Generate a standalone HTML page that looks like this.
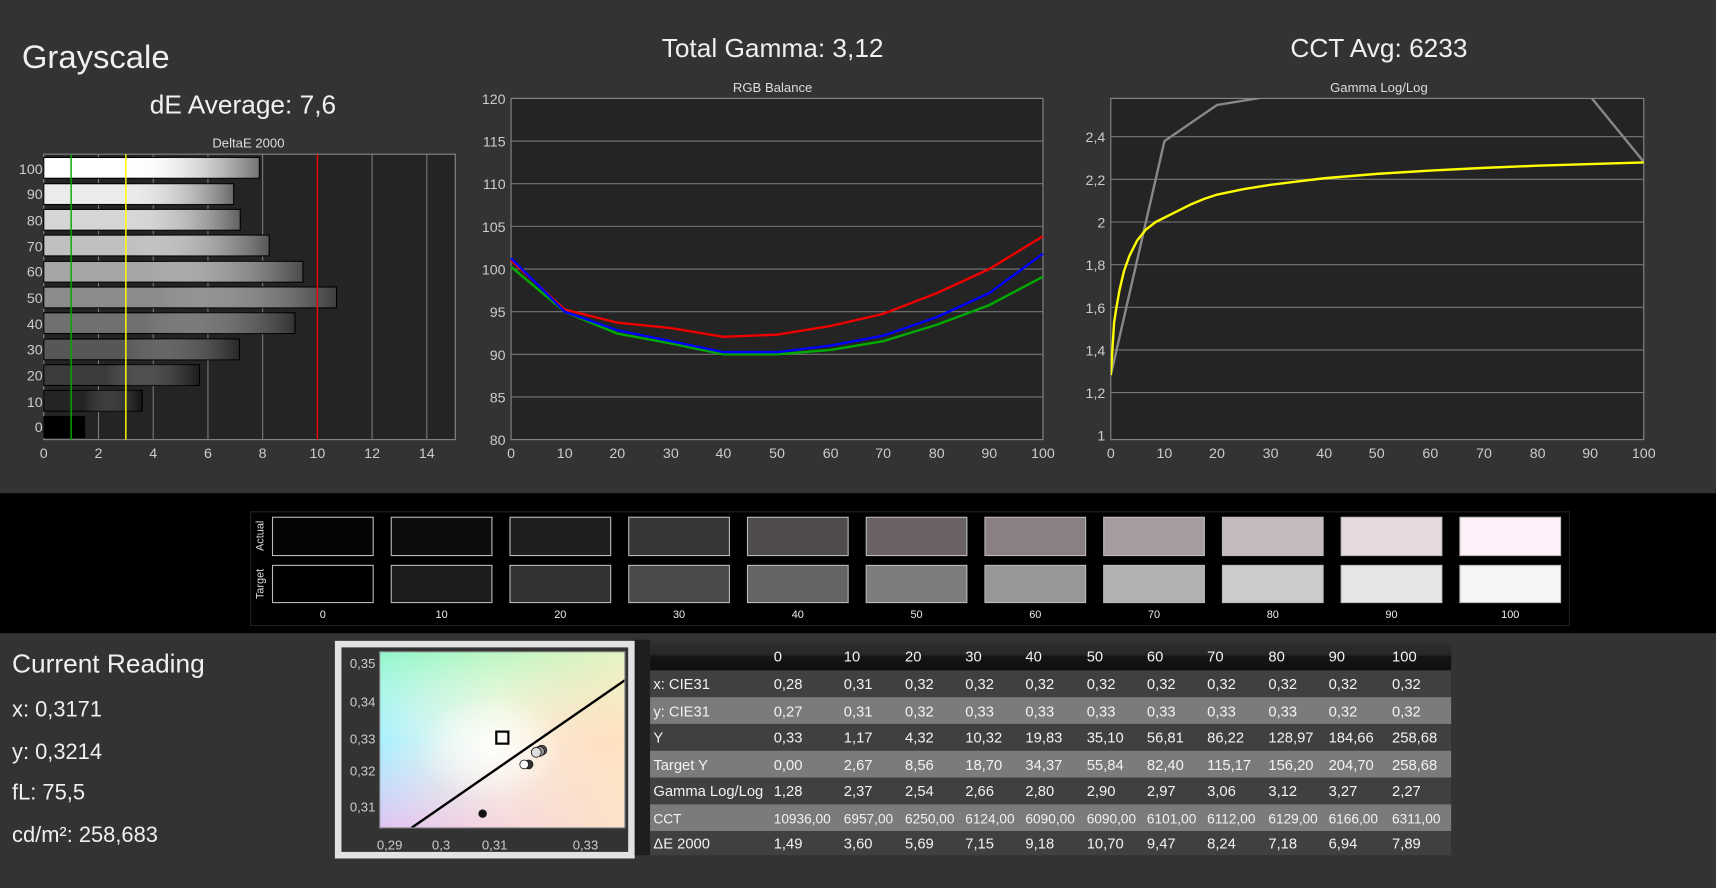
<!DOCTYPE html>
<html><head><meta charset="utf-8"><style>
html,body{margin:0;padding:0;background:#333;overflow:hidden}
svg{display:block}
text{font-family:"Liberation Sans",sans-serif}
</style></head><body>
<svg width="1716" height="888" viewBox="0 0 1568 812" preserveAspectRatio="none" xmlns="http://www.w3.org/2000/svg">
<defs>
<linearGradient id="bar" x1="0" x2="1" y1="0" y2="0">
<stop offset="0" stop-color="#fff" stop-opacity="0"/><stop offset="0.4" stop-color="#fff" stop-opacity="0"/><stop offset="1" stop-color="#000" stop-opacity="0.55"/>
</linearGradient>
<linearGradient id="hdr" x1="0" x2="0" y1="0" y2="1"><stop offset="0" stop-color="#303030"/><stop offset="0.45" stop-color="#262626"/><stop offset="0.5" stop-color="#161616"/><stop offset="1" stop-color="#0e0e0e"/></linearGradient>
<linearGradient id="cieH" x1="0" x2="1" y1="0" y2="0"><stop offset="0" stop-color="#a8f0ff"/><stop offset="0.5" stop-color="#f6f8ff"/><stop offset="1" stop-color="#ffa8c4"/></linearGradient>
<linearGradient id="cieTop" x1="0" x2="0" y1="0" y2="1"><stop offset="0" stop-color="#90f7c8" stop-opacity="0.95"/><stop offset="0.5" stop-color="#d0ffe8" stop-opacity="0"/></linearGradient>
<linearGradient id="cieTopR" x1="0" x2="1" y1="0" y2="0"><stop offset="0" stop-color="#fff6b0" stop-opacity="0"/><stop offset="1" stop-color="#fff4c0" stop-opacity="0.95"/></linearGradient>
<linearGradient id="cieBot" x1="0" x2="0" y1="0" y2="1"><stop offset="0.5" stop-color="#e8c8ff" stop-opacity="0"/><stop offset="1" stop-color="#f0b8f0" stop-opacity="0.8"/></linearGradient>
<radialGradient id="cieW" cx="0.45" cy="0.55" r="0.3"><stop offset="0" stop-color="#fff" stop-opacity="0.85"/><stop offset="1" stop-color="#fff" stop-opacity="0"/></radialGradient>
<clipPath id="cieClip"><rect x="347" y="596" width="224" height="161"/></clipPath>
<clipPath id="gClip"><rect x="1015" y="90" width="487" height="312"/></clipPath>
</defs>
<rect width="1568" height="812" fill="#333"/>
<text x="20" y="62" font-size="30" fill="#f0f0f0">Grayscale</text>
<text x="222" y="104" font-size="24" fill="#f0f0f0" text-anchor="middle">dE Average: 7,6</text>
<text x="706" y="52" font-size="24" fill="#f0f0f0" text-anchor="middle">Total Gamma: 3,12</text>
<text x="1260" y="52" font-size="24" fill="#f0f0f0" text-anchor="middle">CCT Avg: 6233</text>
<text x="227" y="135" font-size="12" fill="#ddd" text-anchor="middle">DeltaE 2000</text>
<text x="706" y="84" font-size="12" fill="#ddd" text-anchor="middle">RGB Balance</text>
<text x="1260" y="84" font-size="12" fill="#ddd" text-anchor="middle">Gamma Log/Log</text>

<rect x="40" y="141" width="376" height="261" fill="#242424" stroke="#888" stroke-width="1"/>
<g stroke="#7a7a7a" stroke-width="1">
<line x1="90" y1="141" x2="90" y2="402"/><line x1="140" y1="141" x2="140" y2="402"/><line x1="190" y1="141" x2="190" y2="402"/><line x1="240" y1="141" x2="240" y2="402"/><line x1="340" y1="141" x2="340" y2="402"/><line x1="390" y1="141" x2="390" y2="402"/>
</g>
<g font-size="13" fill="#ccc" text-anchor="middle">
<text x="40" y="419">0</text><text x="90" y="419">2</text><text x="140" y="419">4</text><text x="190" y="419">6</text><text x="240" y="419">8</text><text x="290" y="419">10</text><text x="340" y="419">12</text><text x="390" y="419">14</text>
</g>
<g stroke="#000" stroke-width="1">
<rect x="40" y="144" width="197" height="19" fill="#fff"/>
<rect x="40" y="168" width="173.5" height="19" fill="#ebebeb"/>
<rect x="40" y="191.5" width="179.5" height="19" fill="#d6d6d6"/>
<rect x="40" y="215" width="206" height="19" fill="#c0c0c0"/>
<rect x="40" y="239" width="236.8" height="19" fill="#a6a6a6"/>
<rect x="40" y="262.5" width="267.5" height="19" fill="#8c8c8c"/>
<rect x="40" y="286" width="229.5" height="19" fill="#707070"/>
<rect x="40" y="310" width="178.8" height="19" fill="#575757"/>
<rect x="40" y="333.5" width="142.3" height="19" fill="#3c3c3c"/>
<rect x="40" y="357" width="90" height="19" fill="#242424"/>
<rect x="40" y="381" width="37.3" height="19" fill="#000"/>
</g>
<g fill="url(#bar)">
<rect x="40" y="144" width="197" height="19"/><rect x="40" y="168" width="173.5" height="19"/><rect x="40" y="191.5" width="179.5" height="19"/><rect x="40" y="215" width="206" height="19"/><rect x="40" y="239" width="236.8" height="19"/><rect x="40" y="262.5" width="267.5" height="19"/><rect x="40" y="286" width="229.5" height="19"/><rect x="40" y="310" width="178.8" height="19"/><rect x="40" y="333.5" width="142.3" height="19"/><rect x="40" y="357" width="90" height="19"/>
</g>
<line x1="65" y1="141" x2="65" y2="402" stroke="#0a0" stroke-width="1.3"/>
<line x1="115" y1="141" x2="115" y2="402" stroke="#ff0" stroke-width="1.3"/>
<line x1="290" y1="141" x2="290" y2="402" stroke="#e00" stroke-width="1.3"/>
<g font-size="13" fill="#ccc" text-anchor="end">
<text x="39" y="159">100</text><text x="39" y="182">90</text><text x="39" y="206">80</text><text x="39" y="230">70</text><text x="39" y="253">60</text><text x="39" y="277">50</text><text x="39" y="301">40</text><text x="39" y="324">30</text><text x="39" y="348">20</text><text x="39" y="372">10</text><text x="39" y="395">0</text>
</g>

<rect x="467" y="90" width="486" height="312" fill="#242424" stroke="#888"/>
<g stroke="#777">
<line x1="467" y1="129" x2="953" y2="129"/><line x1="467" y1="168" x2="953" y2="168"/><line x1="467" y1="207" x2="953" y2="207"/><line x1="467" y1="246" x2="953" y2="246"/><line x1="467" y1="285" x2="953" y2="285"/><line x1="467" y1="324" x2="953" y2="324"/><line x1="467" y1="363" x2="953" y2="363"/>
</g>
<g font-size="13" fill="#ccc" text-anchor="end">
<text x="462" y="95">120</text><text x="462" y="134">115</text><text x="462" y="173">110</text><text x="462" y="212">105</text><text x="462" y="251">100</text><text x="462" y="290">95</text><text x="462" y="329">90</text><text x="462" y="368">85</text><text x="462" y="407">80</text>
</g>
<g font-size="13" fill="#ccc" text-anchor="middle">
<text x="467" y="419">0</text><text x="516" y="419">10</text><text x="564" y="419">20</text><text x="613" y="419">30</text><text x="661" y="419">40</text><text x="710" y="419">50</text><text x="759" y="419">60</text><text x="807" y="419">70</text><text x="856" y="419">80</text><text x="904" y="419">90</text><text x="953" y="419">100</text>
</g>
<g fill="none" stroke-width="2.2">
<polyline stroke="#0a0" points="467,244 516,285 564,305 613,314 661,324 710,324 759,320 807,312 856,297 904,279 953,253"/>
<polyline stroke="#e00" points="467,238 516,283 564,295 613,300 661,308 710,306 759,298 807,287 856,268 904,246 953,216"/>
<polyline stroke="#00f" points="467,236 516,285 564,302 613,312 661,322 710,322 759,316 807,307 856,290 904,268 953,232"/>
</g>

<rect x="1015" y="90" width="487" height="312" fill="#242424" stroke="#888"/>
<g stroke="#777">
<line x1="1015" y1="125" x2="1502" y2="125"/><line x1="1015" y1="164" x2="1502" y2="164"/><line x1="1015" y1="203" x2="1502" y2="203"/><line x1="1015" y1="242" x2="1502" y2="242"/><line x1="1015" y1="281" x2="1502" y2="281"/><line x1="1015" y1="320" x2="1502" y2="320"/><line x1="1015" y1="359" x2="1502" y2="359"/>
</g>
<g font-size="13" fill="#ccc" text-anchor="end">
<text x="1010" y="130">2,4</text><text x="1010" y="169">2,2</text><text x="1010" y="208">2</text><text x="1010" y="247">1,8</text><text x="1010" y="286">1,6</text><text x="1010" y="325">1,4</text><text x="1010" y="364">1,2</text><text x="1010" y="403">1</text>
</g>
<g font-size="13" fill="#ccc" text-anchor="middle">
<text x="1015" y="419">0</text><text x="1064" y="419">10</text><text x="1112" y="419">20</text><text x="1161" y="419">30</text><text x="1210" y="419">40</text><text x="1258" y="419">50</text><text x="1307" y="419">60</text><text x="1356" y="419">70</text><text x="1405" y="419">80</text><text x="1453" y="419">90</text><text x="1502" y="419">100</text>
</g>
<g clip-path="url(#gClip)" fill="none" stroke-width="2.2">
<polyline stroke="#888" points="1015,343 1064,129 1112,96 1161,88 1453,88 1502,148"/>
<polyline stroke="#ff0" points="1015,343 1018,295 1020,282 1023,265 1027,248 1032,234 1039,220 1047,210 1056,203 1064,199 1076,193 1088,187 1100,182 1112,178 1136,173 1161,169 1185,166 1210,163 1258,159 1307,156 1356,153.5 1405,151.5 1453,150 1502,148.5"/>
</g>

<rect x="0" y="451" width="1568" height="128" fill="#000"/>
<rect x="229" y="468" width="1205" height="104" fill="#000" stroke="#222"/>
<text transform="translate(241,490) rotate(-90)" font-size="10" fill="#ddd" text-anchor="middle">Actual</text>
<text transform="translate(241,534) rotate(-90)" font-size="10" fill="#ddd" text-anchor="middle">Target</text>
<g stroke="#bbb" stroke-width="1">
<rect x="249" y="473" width="92" height="35" fill="#050508"/><rect x="357.5" y="473" width="92" height="35" fill="#0d0d10"/><rect x="466" y="473" width="92" height="35" fill="#201e20"/><rect x="574.5" y="473" width="92" height="35" fill="#383537"/><rect x="683" y="473" width="92" height="35" fill="#504b4d"/><rect x="791.5" y="473" width="92" height="35" fill="#6a6264"/><rect x="900" y="473" width="92" height="35" fill="#8a8082"/><rect x="1008.5" y="473" width="92" height="35" fill="#a69c9e"/><rect x="1117" y="473" width="92" height="35" fill="#c5babd"/><rect x="1225.5" y="473" width="92" height="35" fill="#e6dade"/><rect x="1334" y="473" width="92" height="35" fill="#fff0fa"/>
<rect x="249" y="517" width="92" height="34" fill="#000"/><rect x="357.5" y="517" width="92" height="34" fill="#1c1c1c"/><rect x="466" y="517" width="92" height="34" fill="#333"/><rect x="574.5" y="517" width="92" height="34" fill="#4a4a4a"/><rect x="683" y="517" width="92" height="34" fill="#646464"/><rect x="791.5" y="517" width="92" height="34" fill="#7d7d7d"/><rect x="900" y="517" width="92" height="34" fill="#979797"/><rect x="1008.5" y="517" width="92" height="34" fill="#b1b1b1"/><rect x="1117" y="517" width="92" height="34" fill="#cbcbcb"/><rect x="1225.5" y="517" width="92" height="34" fill="#e5e5e5"/><rect x="1334" y="517" width="92" height="34" fill="#f5f5f5"/>
</g>
<g font-size="10" fill="#eee" text-anchor="middle">
<text x="295" y="565">0</text><text x="403.5" y="565">10</text><text x="512" y="565">20</text><text x="620.5" y="565">30</text><text x="729" y="565">40</text><text x="837.5" y="565">50</text><text x="946" y="565">60</text><text x="1054.5" y="565">70</text><text x="1163" y="565">80</text><text x="1271.5" y="565">90</text><text x="1380" y="565">100</text>
</g>

<g fill="#f0f0f0">
<text x="11" y="615" font-size="24">Current Reading</text>
<text x="11" y="655" font-size="20">x: 0,3171</text>
<text x="11" y="694" font-size="20">y: 0,3214</text>
<text x="11" y="731" font-size="20">fL: 75,5</text>
<text x="11" y="770" font-size="20">cd/m²: 258,683</text>
</g>

<rect x="306" y="586" width="274" height="199" fill="#e2e2e2"/>
<rect x="312" y="592" width="262" height="187" fill="#333"/>
<g clip-path="url(#cieClip)">
<rect x="347" y="596" width="224" height="161" fill="url(#cieH)"/>
<rect x="347" y="596" width="224" height="161" fill="url(#cieBot)"/>
<rect x="347" y="596" width="224" height="161" fill="url(#cieTop)"/>
<rect x="347" y="596" width="224" height="161" fill="url(#cieTopR)" opacity="0.8"/>
<rect x="347" y="596" width="224" height="161" fill="url(#cieW)"/>
<line x1="376" y1="757" x2="571" y2="622" stroke="#000" stroke-width="2.2"/>
</g>
<rect x="347" y="596" width="224" height="161" fill="none" stroke="#888"/>
<rect x="453.5" y="669" width="11" height="11" fill="none" stroke="#000" stroke-width="2"/>
<g stroke="#222" stroke-width="0.8">
<circle cx="495" cy="686" r="4.5" fill="#555"/><circle cx="493" cy="687" r="4.5" fill="#999"/><circle cx="490" cy="688" r="4.5" fill="#ddd"/>
<circle cx="483" cy="699" r="4" fill="#333"/><circle cx="479" cy="699" r="4" fill="#fff"/>
<circle cx="441" cy="744" r="3.5" fill="#111"/>
</g>
<g font-size="12" fill="#ccc" text-anchor="end">
<text x="343" y="611">0,35</text><text x="343" y="646">0,34</text><text x="343" y="680">0,33</text><text x="343" y="709">0,32</text><text x="343" y="742">0,31</text>
</g>
<g font-size="12" fill="#ccc" text-anchor="middle">
<text x="356" y="777">0,29</text><text x="403" y="777">0,3</text><text x="452" y="777">0,31</text><text x="535" y="777">0,33</text>
</g>

<rect x="580" y="585" width="14" height="197" fill="#1e1e1e"/>
<rect x="594" y="587" width="732" height="26" fill="url(#hdr)"/>
<rect x="594" y="613" width="732" height="24.5" fill="#404040"/>
<rect x="594" y="637.5" width="732" height="24.5" fill="#7b7b7b"/>
<rect x="594" y="662" width="732" height="24.5" fill="#404040"/>
<rect x="594" y="686.5" width="732" height="24.5" fill="#7b7b7b"/>
<rect x="594" y="711" width="732" height="24.5" fill="#404040"/>
<rect x="594" y="735.5" width="732" height="24.5" fill="#7b7b7b"/>
<rect x="594" y="760" width="732" height="22" fill="#404040"/>
<g font-size="13.5" fill="#f2f2f2">
<text y="605"><tspan x="707">0</tspan><tspan x="771">10</tspan><tspan x="827">20</tspan><tspan x="882">30</tspan><tspan x="937">40</tspan><tspan x="993">50</tspan><tspan x="1048">60</tspan><tspan x="1103">70</tspan><tspan x="1159">80</tspan><tspan x="1214">90</tspan><tspan x="1272">100</tspan></text>
<text y="630"><tspan x="597">x: CIE31</tspan><tspan x="707">0,28</tspan><tspan x="771">0,31</tspan><tspan x="827">0,32</tspan><tspan x="882">0,32</tspan><tspan x="937">0,32</tspan><tspan x="993">0,32</tspan><tspan x="1048">0,32</tspan><tspan x="1103">0,32</tspan><tspan x="1159">0,32</tspan><tspan x="1214">0,32</tspan><tspan x="1272">0,32</tspan></text>
<text y="655"><tspan x="597">y: CIE31</tspan><tspan x="707">0,27</tspan><tspan x="771">0,31</tspan><tspan x="827">0,32</tspan><tspan x="882">0,33</tspan><tspan x="937">0,33</tspan><tspan x="993">0,33</tspan><tspan x="1048">0,33</tspan><tspan x="1103">0,33</tspan><tspan x="1159">0,33</tspan><tspan x="1214">0,32</tspan><tspan x="1272">0,32</tspan></text>
<text y="679"><tspan x="597">Y</tspan><tspan x="707">0,33</tspan><tspan x="771">1,17</tspan><tspan x="827">4,32</tspan><tspan x="882">10,32</tspan><tspan x="937">19,83</tspan><tspan x="993">35,10</tspan><tspan x="1048">56,81</tspan><tspan x="1103">86,22</tspan><tspan x="1159">128,97</tspan><tspan x="1214">184,66</tspan><tspan x="1272">258,68</tspan></text>
<text y="704"><tspan x="597">Target Y</tspan><tspan x="707">0,00</tspan><tspan x="771">2,67</tspan><tspan x="827">8,56</tspan><tspan x="882">18,70</tspan><tspan x="937">34,37</tspan><tspan x="993">55,84</tspan><tspan x="1048">82,40</tspan><tspan x="1103">115,17</tspan><tspan x="1159">156,20</tspan><tspan x="1214">204,70</tspan><tspan x="1272">258,68</tspan></text>
<text y="728"><tspan x="597">Gamma Log/Log</tspan><tspan x="707">1,28</tspan><tspan x="771">2,37</tspan><tspan x="827">2,54</tspan><tspan x="882">2,66</tspan><tspan x="937">2,80</tspan><tspan x="993">2,90</tspan><tspan x="1048">2,97</tspan><tspan x="1103">3,06</tspan><tspan x="1159">3,12</tspan><tspan x="1214">3,27</tspan><tspan x="1272">2,27</tspan></text>
<text y="753" font-size="12.5"><tspan x="597">CCT</tspan><tspan x="707">10936,00</tspan><tspan x="771">6957,00</tspan><tspan x="827">6250,00</tspan><tspan x="882">6124,00</tspan><tspan x="937">6090,00</tspan><tspan x="993">6090,00</tspan><tspan x="1048">6101,00</tspan><tspan x="1103">6112,00</tspan><tspan x="1159">6129,00</tspan><tspan x="1214">6166,00</tspan><tspan x="1272">6311,00</tspan></text>
<text y="776"><tspan x="597">ΔE 2000</tspan><tspan x="707">1,49</tspan><tspan x="771">3,60</tspan><tspan x="827">5,69</tspan><tspan x="882">7,15</tspan><tspan x="937">9,18</tspan><tspan x="993">10,70</tspan><tspan x="1048">9,47</tspan><tspan x="1103">8,24</tspan><tspan x="1159">7,18</tspan><tspan x="1214">6,94</tspan><tspan x="1272">7,89</tspan></text>
</g>
</svg>
</body></html>
